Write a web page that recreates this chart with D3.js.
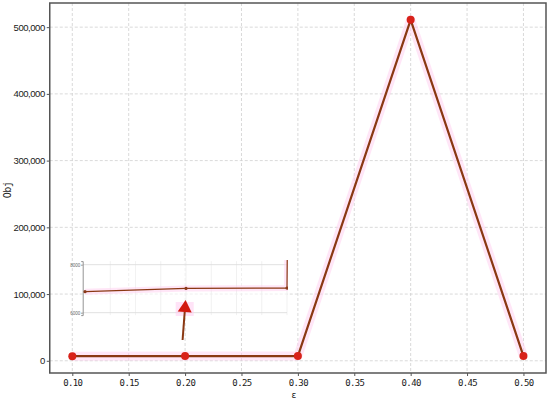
<!DOCTYPE html>
<html>
<head>
<meta charset="utf-8">
<script src="https://cdn.jsdelivr.net/npm/d3@7"></script>
<style>
  body { margin: 0; background: #fff; }
  svg { display: block; }
</style>
</head>
<body>
<svg id="chart" width="550" height="400"></svg>
<script>
// ---- data ----
const epsilons = [0.10, 0.20, 0.30, 0.40, 0.50];
const objValues = [6875, 7010, 7025, 511000, 7000];
const xTicks = [0.10, 0.15, 0.20, 0.25, 0.30, 0.35, 0.40, 0.45, 0.50];
const yTicks = [0, 100000, 200000, 300000, 400000, 500000];
const insetYTicks = [6000, 8000];
const insetXGrid = [0.125, 0.15, 0.175, 0.2, 0.225, 0.25, 0.275, 0.3];
const xLabel = "ε";
const yLabel = "Obj";

const svg = d3.select("#chart");
const W = 550, H = 400;
const m = { left: 49.75, right: 4, top: 3, bottom: 27 };

const x = d3.scaleLinear().domain([0.08, 0.52]).range([m.left, W - m.right]);
const y = d3.scaleLinear().domain([-18300, 536200]).range([H - m.bottom, m.top]);

const lineColor = "#8a3812";
const markerFill = "#d8221a";
const halo = "rgba(255,205,240,0.5)";

// grid
const grid = svg.append("g");
grid.selectAll("line.gx").data(xTicks).join("line")
  .attr("x1", d => x(d)).attr("x2", d => x(d))
  .attr("y1", m.top).attr("y2", H - m.bottom)
  .attr("stroke", "#cfcfcf").attr("stroke-width", 0.8).attr("stroke-dasharray", "3,2");
grid.selectAll("line.gy").data(yTicks).join("line")
  .attr("x1", m.left).attr("x2", W - m.right)
  .attr("y1", d => y(d)).attr("y2", d => y(d))
  .attr("stroke", "#cfcfcf").attr("stroke-width", 0.8).attr("stroke-dasharray", "3,2");

// axes
const fmtY = d3.format(",");
const yAxis = svg.append("g").attr("transform", `translate(${m.left},0)`)
  .call(d3.axisLeft(y).tickValues(yTicks).tickFormat(fmtY).tickSize(3).tickPadding(2));
yAxis.select(".domain").remove();
yAxis.selectAll("line").attr("stroke", "#555");
yAxis.selectAll("text").attr("font-family", "'Liberation Sans', Arial, sans-serif")
  .attr("font-size", 9.5).attr("letter-spacing", "-0.45").attr("fill", "#1a1a1a");

const xAxis = svg.append("g").attr("transform", `translate(0,${H - m.bottom})`)
  .call(d3.axisBottom(x).tickValues(xTicks).tickFormat(d3.format(".2f")).tickSize(3).tickPadding(4));
xAxis.select(".domain").remove();
xAxis.selectAll("line").attr("stroke", "#555");
xAxis.selectAll("text").attr("font-family", "'DejaVu Sans Mono', monospace")
  .attr("font-size", 9).attr("letter-spacing", "-0.6").attr("fill", "#1a1a1a");

// frame
svg.append("rect")
  .attr("x", m.left).attr("y", m.top)
  .attr("width", W - m.right - m.left).attr("height", H - m.bottom - m.top)
  .attr("fill", "none").attr("stroke", "#555").attr("stroke-width", 1.5);

// axis labels
svg.append("text").attr("x", x(0.30) - 4).attr("y", 398)
  .attr("text-anchor", "middle").attr("font-family", "'DejaVu Sans', sans-serif")
  .attr("font-size", 9).attr("fill", "#222").text(xLabel);
svg.append("text").attr("transform", `translate(11,${(m.top + H - m.bottom) / 2 + 2}) rotate(-90)`)
  .attr("text-anchor", "middle").attr("font-family", "'DejaVu Sans Mono', monospace")
  .attr("font-size", 10).attr("letter-spacing", "-0.5").attr("fill", "#222").text(yLabel);

// main line
const pts = epsilons.map((e, i) => [e, objValues[i]]);
const line = d3.line().x(d => x(d[0])).y(d => y(d[1]));
svg.append("path").attr("d", line(pts)).attr("fill", "none")
  .attr("stroke", halo).attr("stroke-width", 9).attr("stroke-linejoin", "round");
svg.append("path").attr("d", line(pts)).attr("fill", "none")
  .attr("stroke", lineColor).attr("stroke-width", 2.2).attr("stroke-linejoin", "round");
svg.selectAll("circle.main").data(pts).join("circle")
  .attr("cx", d => x(d[0])).attr("cy", d => y(d[1])).attr("r", 4)
  .attr("fill", markerFill);

// ---- inset ----
const ix = d3.scaleLinear().domain([0.0977, 0.3]).range([82.7, 287]);
const iy = d3.scaleLinear().domain([5900, 8150]).range([315.1, 261.1]);
const inset = svg.append("g");
inset.append("rect").attr("x", ix.range()[0]).attr("y", iy.range()[1])
  .attr("width", ix.range()[1] - ix.range()[0]).attr("height", iy.range()[0] - iy.range()[1])
  .attr("fill", "rgba(255,255,255,0.6)");
inset.selectAll("line.igx").data(insetXGrid).join("line")
  .attr("x1", d => ix(d)).attr("x2", d => ix(d))
  .attr("y1", iy.range()[1]).attr("y2", iy.range()[0])
  .attr("stroke", "#ededed").attr("stroke-width", 0.8);
inset.selectAll("line.igy").data(insetYTicks).join("line")
  .attr("x1", ix.range()[0]).attr("x2", ix.range()[1])
  .attr("y1", d => iy(d)).attr("y2", d => iy(d))
  .attr("stroke", "#dedede").attr("stroke-width", 0.9);
const iAxis = inset.append("g").attr("transform", `translate(${ix.range()[0]},0)`)
  .call(d3.axisLeft(iy).tickValues(insetYTicks).tickFormat(d3.format("d")).tickSize(1.5).tickPadding(1));
iAxis.select(".domain").attr("stroke", "#888").attr("stroke-width", 0.9);
iAxis.selectAll("line").attr("stroke", "#888");
iAxis.selectAll("text").attr("font-family", "'Liberation Sans', sans-serif")
  .attr("font-size", 4.5).attr("fill", "#666");

svg.append("clipPath").attr("id", "iclip").append("rect")
  .attr("x", ix.range()[0]).attr("y", iy.range()[1] - 1)
  .attr("width", ix.range()[1] - ix.range()[0] + 1).attr("height", iy.range()[0] - iy.range()[1] + 1);
const iline = d3.line().x(d => ix(d[0])).y(d => iy(d[1]));
const ig = inset.append("g").attr("clip-path", "url(#iclip)");
ig.append("path").attr("d", iline(pts)).attr("fill", "none")
  .attr("stroke", halo).attr("stroke-width", 6);
ig.append("path").attr("d", iline(pts)).attr("fill", "none")
  .attr("stroke", lineColor).attr("stroke-width", 1.2);
ig.selectAll("circle").data(pts).join("circle")
  .attr("cx", d => ix(d[0])).attr("cy", d => iy(d[1])).attr("r", 1.6)
  .attr("fill", "#8a3a1a");

// arrow pointing from main curve to inset
const tail = [x(0.2) - 2.5, 340];
const tip = [x(0.2) + 0.5, 300];
const headLen = 12, headHalf = 7;
const ang = Math.atan2(tip[1] - tail[1], tip[0] - tail[0]);
const base = [tip[0] - headLen * Math.cos(ang), tip[1] - headLen * Math.sin(ang)];
const px = -Math.sin(ang), py = Math.cos(ang);
svg.append("rect").attr("x", base[0] - 9).attr("y", tip[1] + 2).attr("width", 18).attr("height", 14)
  .attr("fill", "rgba(255,200,240,0.5)");
svg.append("line").attr("x1", tail[0]).attr("y1", tail[1]).attr("x2", base[0]).attr("y2", base[1])
  .attr("stroke", lineColor).attr("stroke-width", 2);
svg.append("path")
  .attr("d", `M${tip[0]},${tip[1]}L${base[0] + px * headHalf},${base[1] + py * headHalf}L${base[0] - px * headHalf},${base[1] - py * headHalf}Z`)
  .attr("fill", "#d21a10");
</script>
</body>
</html>
